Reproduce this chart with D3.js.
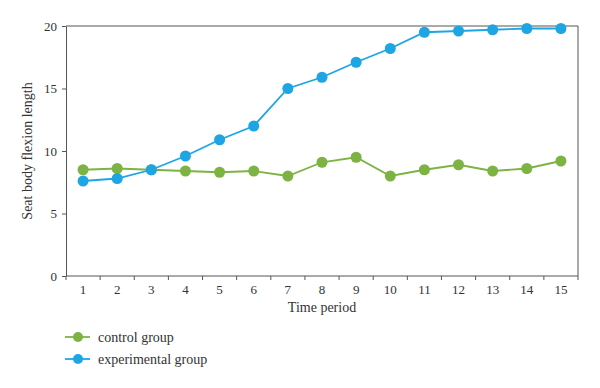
<!DOCTYPE html>
<html>
<head>
<meta charset="utf-8">
<script src="https://cdn.jsdelivr.net/npm/d3@7"></script>
<style>
  body { margin: 0; background: #fff; }
  text { font-family: "Liberation Serif", "DejaVu Serif", serif; fill: #333; }
</style>
</head>
<body>
<div id="chart"></div>
<script>
const width = 600;
const height = 388;
const margin = {top: 26, right: 22, bottom: 112, left: 66};

const periods = [1, 2, 3, 4, 5, 6, 7, 8, 9, 10, 11, 12, 13, 14, 15];
const control = [8.5, 8.6, 8.5, 8.4, 8.3, 8.4, 8.0, 9.1, 9.5, 8.0, 8.5, 8.9, 8.4, 8.6, 9.2];
const experimental = [7.6, 7.8, 8.5, 9.6, 10.9, 12.0, 15.0, 15.9, 17.1, 18.2, 19.5, 19.6, 19.7, 19.8, 19.8];
const yTicks = [0, 5, 10, 15, 20];

const seriesNames = ['control group', 'experimental group'];
const seriesColors = ['#7cb342', '#1ea5e4'];

var svg = d3.select('#chart')
            .append('svg')
            .attr('width', width)
            .attr('height', height);

var plotW = width - margin.left - margin.right;
var plotH = height - margin.top - margin.bottom;

var xScale = d3.scaleBand()
               .domain(periods)
               .range([margin.left, margin.left + plotW]);
var yScale = d3.scaleLinear()
               .domain([0, 20])
               .range([margin.top + plotH, margin.top]);

// frame top and right
svg.append('path')
   .attr('d', 'M' + margin.left + ',' + margin.top + 'H' + (margin.left + plotW) + 'V' + (margin.top + plotH))
   .attr('fill', 'none')
   .attr('stroke', '#555')
   .attr('stroke-width', 1);

// x axis: ticks on band edges
var xAxis = svg.append('g')
   .attr('transform', 'translate(0,' + (margin.top + plotH) + ')');
xAxis.append('line')
   .attr('x1', margin.left).attr('x2', margin.left + plotW)
   .attr('stroke', '#555');
var edges = periods.map(function(p){ return xScale(p); }).concat([margin.left + plotW]);
xAxis.selectAll('.xtick')
   .data(edges)
   .enter()
   .append('line')
   .attr('class', 'xtick')
   .attr('x1', function(d){ return d; })
   .attr('x2', function(d){ return d; })
   .attr('y1', 0).attr('y2', 4)
   .attr('stroke', '#555');
xAxis.selectAll('.xlabel')
   .data(periods)
   .enter()
   .append('text')
   .attr('class', 'xlabel')
   .attr('x', function(d){ return xScale(d) + xScale.bandwidth() / 2; })
   .attr('y', 18)
   .attr('text-anchor', 'middle')
   .attr('font-size', 13)
   .text(function(d){ return d; });

// y axis
var yAxis = svg.append('g')
   .attr('transform', 'translate(' + margin.left + ',0)')
   .call(d3.axisLeft(yScale).tickValues(yTicks).tickSize(4).tickPadding(5).tickSizeOuter(0));
yAxis.select('.domain').attr('stroke', '#555');
yAxis.selectAll('.tick line').attr('stroke', '#555');
yAxis.selectAll('.tick text')
   .attr('font-size', 13)
   .attr('font-family', '"Liberation Serif", serif')
   .attr('fill', '#333');

// axis titles
svg.append('text')
   .attr('x', margin.left + plotW / 2)
   .attr('y', 312)
   .attr('text-anchor', 'middle')
   .attr('font-size', 14)
   .text('Time period');
svg.append('text')
   .attr('transform', 'translate(32,' + (margin.top + plotH / 2) + ') rotate(-90)')
   .attr('text-anchor', 'middle')
   .attr('font-size', 14)
   .text('Seat body flexion length');

// series
var series = [control, experimental];
var line = d3.line()
   .x(function(d, i){ return xScale(periods[i]) + xScale.bandwidth() / 2; })
   .y(function(d){ return yScale(d); });

series.forEach(function(vals, s){
    var g = svg.append('g');
    g.append('path')
     .attr('d', line(vals))
     .attr('fill', 'none')
     .attr('stroke', seriesColors[s])
     .attr('stroke-width', 1.8);
    g.selectAll('circle')
     .data(vals)
     .enter()
     .append('circle')
     .attr('cx', function(d, i){ return xScale(periods[i]) + xScale.bandwidth() / 2; })
     .attr('cy', function(d){ return yScale(d); })
     .attr('r', 5.5)
     .attr('fill', seriesColors[s]);
});

// legend
var legend = svg.append('g');
seriesNames.forEach(function(name, s){
    var ly = 337 + s * 22;
    legend.append('line')
      .attr('x1', 65).attr('x2', 90)
      .attr('y1', ly).attr('y2', ly)
      .attr('stroke', seriesColors[s])
      .attr('stroke-width', 1.8);
    legend.append('circle')
      .attr('cx', 78).attr('cy', ly)
      .attr('r', 5)
      .attr('fill', seriesColors[s]);
    legend.append('text')
      .attr('x', 98).attr('y', ly + 4.5)
      .attr('font-size', 14)
      .text(name);
});
</script>
</body>
</html>
